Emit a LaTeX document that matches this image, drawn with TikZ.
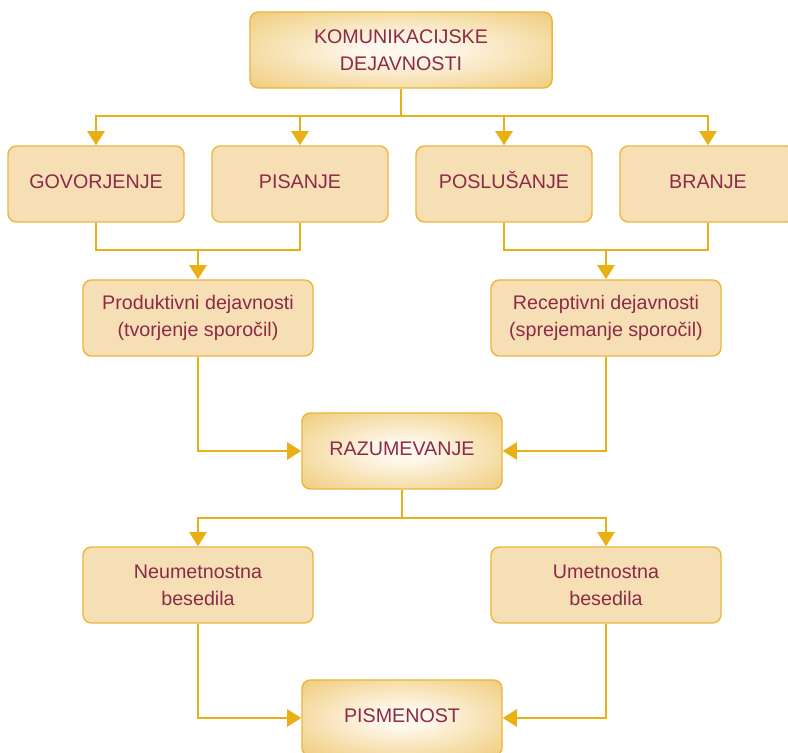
\documentclass[tikz,border=0pt]{standalone}
\usepackage{fontspec}
\setmainfont{Liberation Sans}
\usepackage{tikz}
\usetikzlibrary{
    arrows.meta,
    calc
}

\definecolor{linegold}{RGB}{233,176,22}
\definecolor{boxedge}{RGB}{235,183,60}
\definecolor{boxfill}{RGB}{247,223,181}
\definecolor{boxlight}{RGB}{254,248,237}
\definecolor{boxgold}{RGB}{233,183,68}
\definecolor{textred}{RGB}{140,42,72}

\pgfdeclareradialshading{boxglow}{\pgfpoint{0bp}{0bp}}{%
  color(0bp)=(boxlight); color(6bp)=(boxlight); color(50bp)=(boxgold)}

\begin{document}
\begin{tikzpicture}[x=0.025cm,y=-0.025cm,
    font=\fontsize{14}{19}\selectfont,
    box/.style={draw=boxedge,line width=1pt,fill=boxfill,rounded corners=6pt,
        text=textred,align=center,minimum height=1.9cm,inner sep=2pt},
    oneline/.style={text height=1.6ex,text depth=0.3ex},
    glowbox/.style={box,shading=boxglow},
    link/.style={draw=linegold,line width=2.1pt},
    arrow/.style={link,-{Triangle[width=12pt,length=10pt]}}]

\useasboundingbox (0,0) rectangle (788,753);

% Vrh
\node[glowbox,minimum width=7.55cm] (top) at (401,50) {KOMUNIKACIJSKE\\DEJAVNOSTI};

% Stiri dejavnosti
\node[box,oneline,minimum width=4.4cm] (gov) at (96,184) {GOVORJENJE};
\node[box,oneline,minimum width=4.4cm] (pis) at (300,184) {PISANJE};
\node[box,oneline,minimum width=4.4cm] (pos) at (504,184) {POSLUŠANJE};
\node[box,oneline,minimum width=4.4cm] (bra) at (708,184) {BRANJE};

% Produktivni in receptivni
\node[box,minimum width=5.75cm] (prod) at (198,318) {Produktivni dejavnosti\\(tvorjenje sporočil)};
\node[box,minimum width=5.75cm] (rec) at (606,318) {Receptivni dejavnosti\\(sprejemanje sporočil)};

% Sredina
\node[glowbox,oneline,minimum width=5cm] (raz) at (402,451) {RAZUMEVANJE};

% Besedila
\node[box,minimum width=5.75cm] (neu) at (198,585) {Neumetnostna\\besedila};
\node[box,minimum width=5.75cm] (ume) at (606,585) {Umetnostna\\besedila};

% Dno
\node[glowbox,oneline,minimum width=5cm] (pism) at (402,718) {PISMENOST};

% Razcepi
\coordinate (topsplit) at (401,116);
\coordinate (prodjoin) at (198,250);
\coordinate (recjoin) at (606,250);
\coordinate (razsplit) at (402,518);

% Povezave od vrha
\draw[link] (top.south) -- (topsplit);
\foreach \n in {gov,pis,pos,bra}
    \draw[arrow] (topsplit) -| (\n.north);

% Zdruzevanje v srednjo vrsto
\draw[link] (gov.south) |- (prodjoin);
\draw[link] (pis.south) |- (prodjoin);
\draw[arrow] (prodjoin) -- (prod.north);
\draw[link] (pos.south) |- (recjoin);
\draw[link] (bra.south) |- (recjoin);
\draw[arrow] (recjoin) -- (rec.north);

% Do razumevanja
\draw[arrow] (prod.south) |- (raz.west);
\draw[arrow] (rec.south) |- (raz.east);

% Od razumevanja navzdol
\draw[link] (raz.south) -- (razsplit);
\draw[arrow] (razsplit) -| (neu.north);
\draw[arrow] (razsplit) -| (ume.north);

% Do pismenosti
\draw[arrow] (neu.south) |- (pism.west);
\draw[arrow] (ume.south) |- (pism.east);

\end{tikzpicture}
\end{document}
